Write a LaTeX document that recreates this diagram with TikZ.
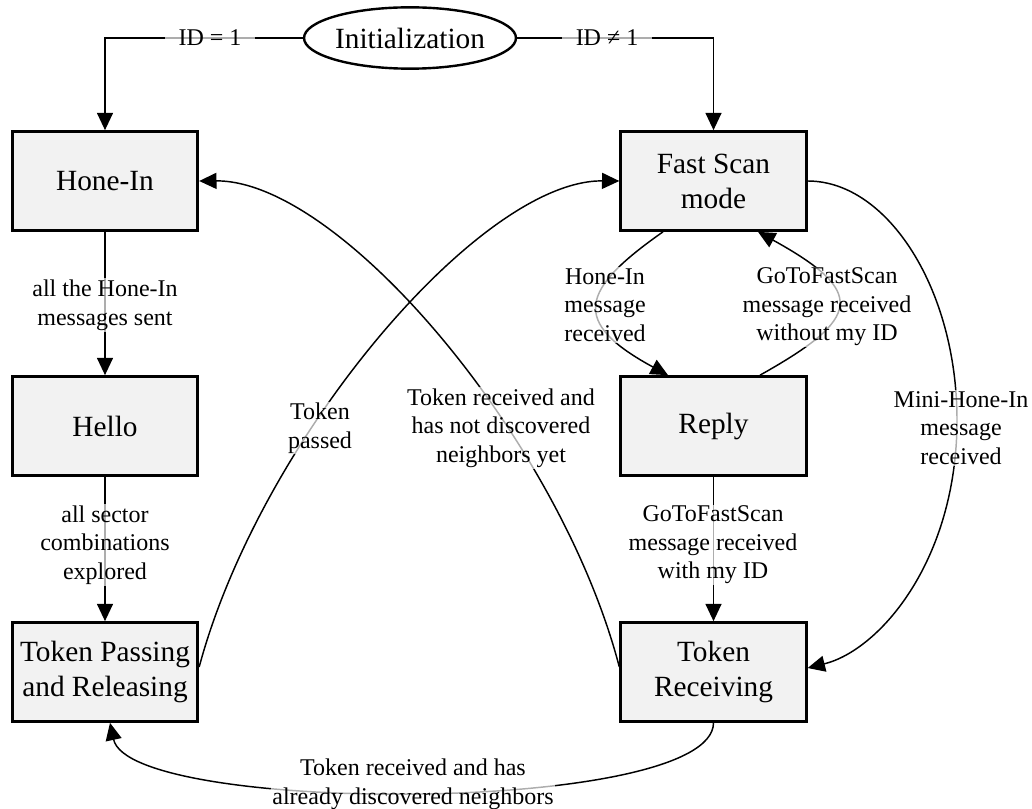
\documentclass[tikz,border=0pt]{standalone}
\usepackage{fontspec}
\setmainfont{Liberation Serif}
\usetikzlibrary{arrows.meta,calc,shapes.geometric}
\definecolor{boxfill}{RGB}{242,242,242}
\tikzset{
  statebox/.style={draw, line width=2.25pt, fill=boxfill, minimum width=139pt, minimum height=74pt,
    align=center, inner sep=2pt, font=\fontsize{22}{26.25}\selectfont},
  initnode/.style={draw, ellipse, line width=1.8pt, fill=white, minimum width=142pt, minimum height=46pt,
    inner sep=0pt, font=\fontsize{22}{26.25}\selectfont},
  arr/.style={-{Triangle[length=13pt,width=12pt]}, line width=1.1pt},
  lbl/.style={fill=white, fill opacity=0.68, text opacity=1, align=center, inner xsep=1pt, inner ysep=1pt,
    font=\fontsize{18}{21.4}\selectfont},
  idlbl/.style={lbl, inner xsep=10pt}
}
\begin{document}
\begin{tikzpicture}[x=0.75pt,y=-0.75pt]
\useasboundingbox (0,0) rectangle (1032,809);

\node[initnode] (init) at (410,38) {Initialization};
\node[statebox] (hone)  at (105,181)   {Hone-In};
\node[statebox] (hello) at (105,426)   {Hello};
\node[statebox] (tpass) at (105,672)   {Token Passing\\and Releasing};
\node[statebox] (fast)  at (713.5,181) {Fast Scan\\mode};
\node[statebox] (reply) at (713.5,426) {Reply};
\node[statebox] (trecv) at (713.5,672) {Token\\Receiving};

% connectors
\draw[arr] (init.west) -| (hone.north);
\draw[arr] (init.east) -| (fast.north);
\draw[arr] (hone) -- (hello);
\draw[arr] (hello) -- (tpass);
\draw[arr] (reply) -- (trecv);

\draw[arr] ($(fast.south)+(-50.5,0)$) .. controls (580,290) and (570,322) .. ($(reply.north)+(-45.5,0)$);
\draw[arr] ($(reply.north)+(46.5,0)$) .. controls (862,318) and (867,292) .. ($(fast.south)+(44.5,0)$);
\draw[arr] (fast.east) .. controls (888,181) and (957,290) .. (957,420)
   .. controls (957,560) and (880,650) .. ($(trecv.east)+(0,-4)$);
\draw[arr] ($(tpass.east)+(0,-5)$) .. controls (260,440) and (480,180) .. (fast.west);
\draw[arr] ($(trecv.west)+(0,-5)$) .. controls (560,440) and (340,180) .. (hone.east);
\draw[arr] (trecv.south) .. controls (713,815) and (130,815) .. ($(tpass.south)+(5,0)$);

% labels
\node[idlbl] (l1) at (210,38) {ID = 1};
\node[idlbl] (l2) at (607,38) {ID ≠ 1};
\node[lbl] (l3) at (105,305) {all the Hone-In\\messages sent};
\node[lbl] (l4) at (105,545) {all sector\\combinations\\explored};
\node[lbl] (l5) at (713,545) {GoToFastScan\\message received\\with my ID};
\node[lbl] (l6) at (605,305) {Hone-In\\message\\received};
\node[lbl] (l7) at (827,307) {GoToFastScan\\message received\\without my ID};
\node[lbl] (l8) at (961,428) {Mini-Hone-In\\message\\received};
\node[lbl] (l9) at (320,428) {Token\\passed};
\node[lbl] (l10) at (501,428) {Token received and\\has not discovered\\neighbors yet};
\node[lbl] (l11) at (413,784) {Token received and has\\already discovered neighbors};
\end{tikzpicture}
\end{document}
